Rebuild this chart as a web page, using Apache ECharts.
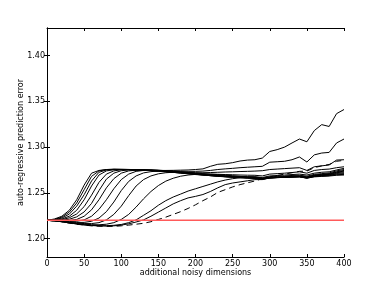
<!DOCTYPE html>
<html>
<head>
<meta charset="utf-8">
<script src="https://cdn.jsdelivr.net/npm/echarts@6/dist/echarts.min.js"></script>
<style>
html,body{margin:0;padding:0;background:#fff;}
#chart{width:382px;height:286px;}
</style>
</head>
<body>
<div id="chart"></div>
<script>
var xValues = [0,10,20,30,40,50,60,70,80,90,100,110,120,130,140,150,160,170,180,190,200,210,220,230,240,250,260,270,280,290,300,310,320,330,340,350,360,370,380,390,400];

var curve1 = [1.220,1.2215,1.2245,1.231,1.2425,1.2585,1.2715,1.2745,1.2755,1.2757,
  1.2755,1.2753,1.275,1.2748,1.2746,1.2745,1.2745,1.2746,1.2748,1.275,
  1.2755,1.2762,1.279,1.2812,1.2818,1.283,1.2848,1.2858,1.2862,1.288,
  1.2952,1.2972,1.3,1.3045,1.3088,1.3058,1.318,1.3245,1.3225,1.3365,1.341];
var curve2 = [1.220,1.221,1.2235,1.229,1.239,1.2535,1.268,1.274,1.2755,1.2758,
  1.2757,1.2755,1.2752,1.275,1.2747,1.2744,1.2741,1.2738,1.2736,1.2735,
  1.2735,1.2738,1.2745,1.2755,1.2762,1.2768,1.2775,1.278,1.2785,1.279,
  1.2835,1.284,1.2845,1.2862,1.2892,1.2837,1.2915,1.2935,1.2942,1.3045,1.3088];
var curve3 = [1.220,1.2208,1.2225,1.2268,1.2355,1.248,1.263,1.2725,1.275,1.2757,
  1.2757,1.2756,1.2753,1.2749,1.2745,1.274,1.2735,1.273,1.2726,1.2722,
  1.272,1.272,1.2722,1.2725,1.2728,1.273,1.2733,1.2735,1.2738,1.2742,
  1.2755,1.276,1.2765,1.277,1.2775,1.2745,1.2785,1.2795,1.2805,1.2858,1.2862];
var curve4 = [1.220,1.2205,1.2215,1.2245,1.231,1.2425,1.2575,1.2695,1.274,1.2752,
  1.2755,1.2755,1.2752,1.2748,1.2742,1.2736,1.273,1.2724,1.2719,1.2714,
  1.271,1.2707,1.2705,1.2703,1.27,1.2698,1.2695,1.2693,1.2692,1.2685,
  1.2705,1.271,1.2715,1.2722,1.273,1.2715,1.2745,1.2755,1.276,1.2775,1.2785];
var curve5 = [1.220,1.2202,1.2208,1.2228,1.227,1.235,1.2475,1.2615,1.2705,1.274,
  1.2752,1.2755,1.2754,1.275,1.2744,1.2738,1.2731,1.2724,1.2717,1.271,
  1.2704,1.2699,1.2695,1.2691,1.2687,1.2683,1.268,1.2677,1.2675,1.2668,
  1.2685,1.269,1.2695,1.27,1.2705,1.2695,1.2715,1.2725,1.273,1.275,1.2768];
var curve6 = [1.220,1.220,1.2202,1.2212,1.2238,1.2292,1.2385,1.2525,1.265,1.2715,
  1.2742,1.275,1.2753,1.2752,1.2747,1.274,1.2732,1.2724,1.2716,1.2708,
  1.27,1.2694,1.2689,1.2684,1.268,1.2676,1.2673,1.267,1.2668,1.266,
  1.2675,1.268,1.2685,1.269,1.2693,1.2682,1.2702,1.271,1.2718,1.274,1.2755];
var curve7 = [1.220,1.2198,1.2196,1.2198,1.221,1.2245,1.2315,1.2425,1.2555,1.2655,
  1.2715,1.274,1.2748,1.2752,1.2751,1.2746,1.2738,1.2729,1.272,1.2711,
  1.2703,1.2695,1.2688,1.2682,1.2677,1.2672,1.2668,1.2664,1.2662,1.2655,
  1.2668,1.2673,1.2678,1.2682,1.2686,1.2675,1.2695,1.2703,1.271,1.273,1.2745];
var curve8 = [1.220,1.2197,1.2192,1.2188,1.219,1.2205,1.2245,1.232,1.2425,1.2545,
  1.2645,1.2705,1.2735,1.2745,1.275,1.2748,1.2742,1.2734,1.2725,1.2715,
  1.2705,1.2696,1.2688,1.2681,1.2675,1.267,1.2666,1.2662,1.2659,1.2652,
  1.2665,1.267,1.2674,1.2678,1.2682,1.267,1.269,1.2698,1.2705,1.2725,1.2738];
var curve9 = [1.220,1.2196,1.219,1.2182,1.2177,1.2178,1.219,1.2225,1.2295,1.24,
  1.2525,1.2625,1.2685,1.2718,1.2732,1.2738,1.274,1.2737,1.273,1.2721,
  1.2711,1.2701,1.2692,1.2684,1.2677,1.2671,1.2666,1.2662,1.2658,1.265,
  1.2663,1.2668,1.2672,1.2676,1.268,1.2668,1.2688,1.2695,1.2702,1.272,1.273];
var curve10 = [1.220,1.2196,1.2188,1.2178,1.217,1.2165,1.2165,1.2175,1.2205,1.2265,
  1.2355,1.247,1.2575,1.2645,1.2685,1.2708,1.272,1.2725,1.2727,1.2724,
  1.2718,1.271,1.2701,1.2692,1.2684,1.2677,1.267,1.2665,1.266,1.2648,
  1.2661,1.2666,1.267,1.2674,1.2678,1.2665,1.2685,1.2692,1.2698,1.2712,1.272];
var curve11 = [1.220,1.2195,1.2186,1.2175,1.2165,1.2158,1.2153,1.2152,1.2158,1.2175,
  1.221,1.2265,1.2345,1.2435,1.2515,1.258,1.2628,1.266,1.2682,1.2695,
  1.2702,1.2705,1.2704,1.27,1.2694,1.2687,1.268,1.2673,1.2667,1.2655,
  1.2663,1.2667,1.267,1.2673,1.2676,1.2663,1.2682,1.2688,1.2694,1.2705,1.271];
var curve12 = [1.220,1.2195,1.2185,1.2173,1.2162,1.2152,1.2145,1.2142,1.2142,1.2146,
  1.2155,1.2175,1.2205,1.2255,1.2305,1.2365,1.2415,1.2455,1.2487,1.252,
  1.2545,1.257,1.2595,1.262,1.264,1.2655,1.2665,1.2672,1.2676,1.2662,
  1.2668,1.267,1.2672,1.2674,1.2676,1.266,1.2678,1.2683,1.2688,1.2698,1.2702];
var curve13 = [1.220,1.2195,1.2185,1.2172,1.216,1.215,1.2143,1.214,1.2138,1.214,
  1.2148,1.2162,1.2182,1.2205,1.2245,1.229,1.2335,1.238,1.2415,1.2445,
  1.2462,1.2482,1.2515,1.2555,1.259,1.2608,1.262,1.2632,1.2645,1.2645,
  1.2665,1.2668,1.267,1.2672,1.2674,1.2662,1.2675,1.268,1.2684,1.2692,1.2695];
var dashedCurve = [1.220,1.2195,1.2185,1.217,1.2158,1.2148,1.214,1.2136,1.2134,1.2135,
  1.214,1.2148,1.2158,1.2168,1.2185,1.221,1.2235,1.2265,1.2295,1.233,
  1.237,1.2415,1.2455,1.2505,1.2535,1.2565,1.259,1.261,1.263,1.2655,
  1.2675,1.269,1.2705,1.272,1.2735,1.2738,1.2775,1.2795,1.281,1.2845,1.2855];
var baselineValue = 1.22;
var xTicks = [0,50,100,150,200,250,300,350,400];
var yTicks = [1.20,1.25,1.30,1.35,1.40];

var solidCurves = [curve1,curve2,curve3,curve4,curve5,curve6,curve7,curve8,curve9,curve10,curve11,curve12,curve13];

function pairs(arr){ return xValues.map(function(x,i){ return [x, arr[i]]; }); }

var FONT = 'DejaVu Sans';
var series = solidCurves.map(function(c){
  return {type:'line', data:pairs(c), showSymbol:false, symbol:'none', silent:true,
    lineStyle:{color:'#000', width:1}, z:2};
});
series.push({type:'line', data:pairs(dashedCurve), showSymbol:false, symbol:'none', silent:true,
  lineStyle:{color:'#000', width:1, type:[6,4]}, z:2});
series.push({type:'line', data:[[xValues[0], baselineValue],[xValues[xValues.length-1], baselineValue]],
  showSymbol:false, symbol:'none', silent:true, lineStyle:{color:'rgb(255,90,90)', width:1.5}, z:3});

var axLine = {show:true, lineStyle:{color:'#000', width:1}};
var chart = echarts.init(document.getElementById('chart'), null, {renderer:'canvas'});
chart.setOption({
  animation:false,
  backgroundColor:'#fff',
  grid:{left:47, right:38, top:28, bottom:29, containLabel:false},
  xAxis:[
    {type:'value', min:0, max:400, interval:50, position:'bottom',
     axisLine:axLine,
     axisTick:{inside:true, length:3, lineStyle:{color:'#000'}, customValues:xTicks},
     axisLabel:{color:'#000', fontSize:8, fontFamily:FONT, margin:3, customValues:xTicks},
     splitLine:{show:false},
     name:'additional noisy dimensions', nameLocation:'middle', nameGap:11.5, nameMoveOverlap:false,
     nameTextStyle:{color:'#000', fontSize:8, fontFamily:FONT}},
    {type:'value', min:0, max:400, interval:50, position:'top',
     axisLine:axLine,
     axisTick:{inside:true, length:3, lineStyle:{color:'#000'}, customValues:xTicks},
     axisLabel:{show:false}, splitLine:{show:false}}
  ],
  yAxis:[
    {type:'value', min:1.18, max:1.43, position:'left',
     axisLine:axLine,
     axisTick:{inside:true, length:3, lineStyle:{color:'#000'}, customValues:yTicks},
     axisLabel:{color:'#000', fontSize:8, fontFamily:FONT, margin:2, customValues:yTicks,
       formatter:function(v){ return v.toFixed(2); }},
     splitLine:{show:false},
     name:'auto-regressive prediction error', nameLocation:'middle', nameGap:22, nameMoveOverlap:false,
     nameTextStyle:{color:'#000', fontSize:8, fontFamily:FONT}},
    {type:'value', min:1.18, max:1.43, position:'right',
     axisLine:axLine,
     axisTick:{inside:true, length:3, lineStyle:{color:'#000'}, customValues:yTicks},
     axisLabel:{show:false}, splitLine:{show:false}}
  ],
  series:series
});
</script>
</body>
</html>
